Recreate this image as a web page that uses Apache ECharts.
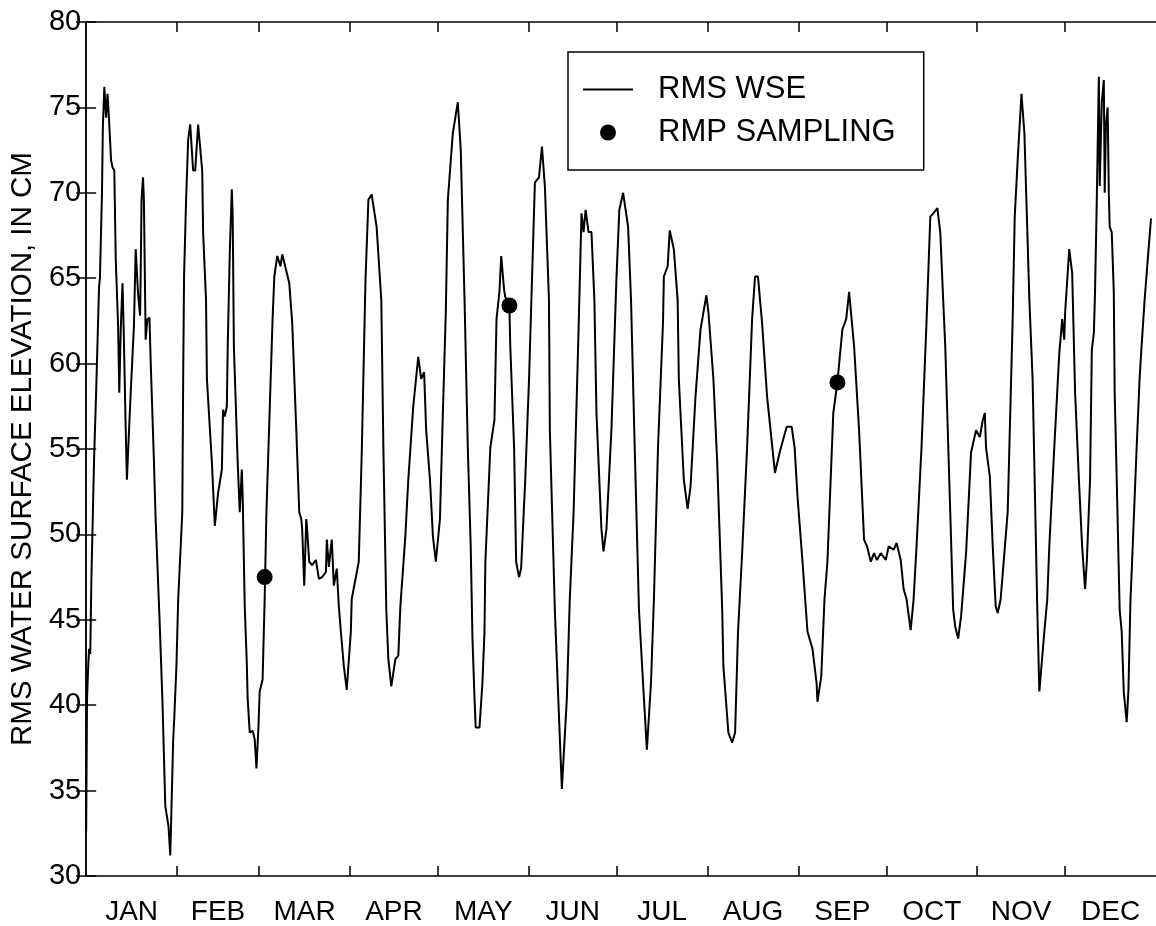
<!DOCTYPE html>
<html>
<head>
<meta charset="utf-8">
<script src="https://cdn.jsdelivr.net/npm/echarts@6/dist/echarts.min.js"></script>
<style>
  html, body { margin: 0; padding: 0; background: #fff; }
  #chart { width: 1156px; height: 926px; }
</style>
</head>
<body>
<div id="chart"></div>
<script>
// month boundaries (day of year) and names
const monthStarts = [0, 31, 59, 90, 120, 151, 181, 212, 243, 273, 304, 334, 365];
const monthNames = ['JAN', 'FEB', 'MAR', 'APR', 'MAY', 'JUN', 'JUL', 'AUG', 'SEP', 'OCT', 'NOV', 'DEC'];
const yTicks = [30, 35, 40, 45, 50, 55, 60, 65, 70, 75, 80];

// RMS water surface elevation, [day of year, cm]
const wse = [
  [0, 32.6], [0.3, 40.4], [0.7, 42.3], [1.0, 43.3], [1.4, 43.0], [1.8, 47.5], [2.7, 54.4], [3.4, 58.3],
  [4.4, 64.5], [4.7, 65.0], [5.4, 70.0], [5.7, 73.9], [6.2, 76.2], [6.8, 74.4], [7.3, 75.8], [7.8, 74.3],
  [8.5, 71.9], [9.0, 71.5], [9.6, 71.3], [10.1, 66.1], [10.9, 62.2], [11.3, 58.3], [11.8, 62.0], [12.4, 64.7],
  [12.8, 62.0], [13.5, 56.1], [13.9, 53.2], [14.5, 55.6], [15.2, 58.3], [16.3, 62.2], [16.9, 66.7], [17.2, 66.8],
  [17.7, 64.1], [18.4, 62.8], [18.6, 65.1], [18.9, 69.6], [19.4, 70.9], [19.7, 69.6], [20.3, 61.4], [20.9, 62.6],
  [21.6, 62.7], [22.0, 60.2], [23.1, 54.4], [23.7, 50.9], [25.0, 45.2], [26.0, 40.4], [27.0, 34.1], [28.1, 32.9],
  [28.7, 31.2], [29.7, 38.0], [30.1, 39.4], [30.8, 42.3], [31.4, 46.2], [32.8, 51.3], [33.1, 59.1], [33.4, 65.1],
  [34.1, 69.6], [34.8, 73.1], [35.5, 74.0], [36.5, 71.3], [37.2, 71.3], [38.2, 74.0], [39.6, 71.3], [39.9, 67.7],
  [40.9, 63.7], [41.2, 59.1], [42.9, 54.2], [43.9, 50.5], [45.0, 52.4], [46.3, 53.8], [46.7, 57.3], [47.3, 56.9],
  [48.0, 57.5], [48.3, 61.0], [49.0, 66.5], [49.7, 70.2], [50.0, 68.6], [50.4, 61.0], [51.7, 54.2], [52.4, 51.3],
  [53.1, 53.8], [53.4, 52.2], [54.1, 45.8], [54.8, 42.5], [55.1, 40.4], [55.8, 38.4], [56.8, 38.5], [57.5, 38.0],
  [58.1, 36.3], [58.8, 38.8], [59.2, 40.8], [60.2, 41.5], [60.9, 46.2], [61.5, 51.3], [63.6, 62.6], [64.2, 65.1],
  [65.2, 66.3], [66.3, 65.7], [66.9, 66.4], [69.3, 64.7], [70.3, 62.4], [71.7, 56.1], [72.7, 51.3], [73.4, 50.9],
  [73.7, 50.3], [74.4, 47.0], [75.1, 50.9], [75.4, 50.3], [76.1, 48.4], [77.1, 48.2], [78.4, 48.5], [79.4, 47.4],
  [80.5, 47.5], [81.8, 47.8], [82.1, 49.7], [82.8, 48.1], [83.8, 49.7], [84.5, 47.0], [85.5, 48.0], [86.2, 45.8],
  [86.9, 44.3], [87.9, 42.3], [88.9, 40.9], [90.3, 44.3], [90.6, 46.2], [93.0, 48.4], [94.0, 54.6], [95.3, 64.9],
  [96.3, 69.6], [97.4, 69.9], [99.1, 68.0], [100.7, 63.7], [101.4, 55.1], [102.4, 45.6], [103.1, 42.7], [104.1, 41.1],
  [105.5, 42.7], [106.5, 42.9], [107.2, 45.8], [108.9, 49.9], [109.9, 53.2], [111.6, 57.5], [113.3, 60.4], [114.3, 59.1],
  [115.3, 59.5], [116.0, 56.1], [117.3, 53.2], [118.3, 49.9], [119.3, 48.4], [120.7, 50.9], [121.7, 57.1], [122.7, 63.0],
  [123.4, 69.6], [125.1, 73.5], [126.8, 75.3], [127.8, 72.5], [129.1, 63.7], [130.2, 55.1], [131.2, 49.3], [131.8, 43.9],
  [132.5, 40.4], [132.9, 38.7], [134.2, 38.7], [135.2, 41.3], [135.9, 44.3], [136.2, 48.4], [137.9, 55.1], [139.3, 56.7],
  [140.0, 62.6], [141.0, 64.2], [141.6, 66.3], [142.6, 64.3], [143.0, 63.9], [144.4, 63.3], [144.7, 61.0], [146.0, 55.1],
  [146.7, 48.4], [147.7, 47.5], [148.4, 48.0], [149.8, 53.2], [151.1, 59.1], [152.1, 64.9], [153.1, 70.6], [154.5, 70.9],
  [155.5, 72.7], [156.5, 70.4], [157.9, 63.7], [158.2, 56.1], [159.9, 45.6], [161.3, 39.4], [162.3, 35.1], [164.0, 40.4],
  [165.0, 46.2], [166.3, 51.3], [168.0, 62.0], [169.0, 68.8], [169.7, 67.7], [170.4, 69.0], [171.4, 67.7], [172.4, 67.7],
  [173.4, 63.7], [174.1, 57.1], [175.8, 50.3], [176.5, 49.0], [177.5, 50.3], [179.2, 56.1], [180.9, 64.9], [181.9, 69.0],
  [183.2, 70.0], [184.9, 68.0], [185.9, 63.7], [187.0, 56.1], [188.6, 45.6], [190.0, 41.3], [191.3, 37.4], [192.7, 41.3],
  [193.7, 46.2], [195.1, 55.1], [196.8, 62.4], [197.1, 65.1], [198.4, 65.7], [199.1, 67.8], [200.5, 66.7], [201.8, 63.7],
  [202.2, 59.1], [203.9, 53.2], [205.2, 51.5], [206.2, 52.8], [207.9, 58.1], [209.6, 62.0], [211.6, 64.0], [212.3, 63.0],
  [214.0, 59.1], [215.3, 54.2], [217.0, 45.6], [217.4, 42.3], [219.1, 38.4], [220.4, 37.8], [221.4, 38.4], [222.4, 44.3],
  [223.8, 48.9], [225.5, 55.1], [227.2, 62.6], [228.2, 65.1], [229.2, 65.1], [230.6, 62.4], [232.3, 58.1], [235.0, 53.6],
  [236.6, 54.8], [239.0, 56.3], [240.7, 56.3], [241.7, 55.1], [242.7, 52.2], [244.4, 48.4], [246.1, 44.3], [247.8, 43.3],
  [249.2, 41.3], [249.5, 40.2], [250.8, 41.7], [251.9, 46.2], [252.9, 48.4], [254.9, 57.1], [256.3, 58.9], [258.0, 62.0],
  [259.3, 62.6], [260.3, 64.2], [262.0, 61.0], [263.7, 56.1], [265.4, 49.7], [266.4, 49.3], [267.7, 48.4], [268.8, 48.9],
  [269.8, 48.5], [271.1, 48.9], [272.8, 48.5], [273.8, 49.3], [275.5, 49.1], [276.5, 49.5], [277.9, 48.5], [278.9, 46.8],
  [279.9, 46.2], [281.3, 44.4], [282.3, 46.2], [283.3, 49.3], [285.0, 55.1], [286.7, 62.4], [288.0, 68.6], [289.0, 68.8],
  [290.4, 69.1], [291.4, 67.7], [292.4, 63.7], [293.1, 61.0], [294.8, 51.3], [295.8, 45.6], [296.5, 44.6], [297.5, 43.9],
  [298.5, 45.2], [300.2, 48.9], [301.9, 54.8], [303.6, 56.1], [304.9, 55.7], [305.9, 56.7], [306.6, 57.1], [307.0, 55.1],
  [308.3, 53.4], [309.3, 49.3], [310.3, 45.8], [311.0, 45.4], [312.0, 46.2], [314.4, 51.3], [316.1, 62.6], [316.8, 68.6],
  [317.8, 71.9], [319.1, 75.8], [320.1, 73.5], [321.8, 63.7], [322.9, 59.1], [324.5, 45.6], [325.2, 40.8], [326.9, 44.3],
  [327.9, 46.2], [328.6, 49.3], [330.3, 55.1], [332.0, 60.6], [333.0, 62.6], [333.7, 61.4], [334.0, 63.0], [335.4, 66.7],
  [336.4, 65.3], [337.4, 58.3], [338.7, 53.2], [339.8, 49.3], [340.8, 46.8], [341.4, 48.4], [342.5, 53.2], [343.1, 60.8],
  [343.8, 61.8], [344.2, 64.2], [344.8, 69.6], [345.5, 76.8], [345.8, 70.4], [346.5, 75.3], [347.2, 76.6], [347.5, 70.0],
  [347.9, 73.9], [348.5, 75.0], [348.9, 70.0], [349.2, 68.0], [349.9, 67.7], [350.6, 64.2], [350.9, 58.3], [351.6, 53.2],
  [352.6, 45.6], [353.3, 44.3], [354.0, 40.8], [355.0, 39.0], [355.6, 40.9], [356.3, 46.2], [356.7, 47.8], [358.4, 55.1],
  [359.4, 59.1], [360.0, 60.8], [361.1, 63.7], [362.1, 65.9], [363.3, 68.5]
];

// RMP sampling dates, [day of year, cm]
const sampling = [[60.9, 47.5], [144.4, 63.4], [256.3, 58.9]];

const FONT = '"Liberation Sans", Arial, Helvetica, sans-serif';
const labelDays = monthNames.map((m, i) => (monthStarts[i] + monthStarts[i + 1]) / 2);

const chart = echarts.init(document.getElementById('chart'));

const axisLine = { show: true, lineStyle: { color: '#000', width: 1.5 } };
const tickStyle = { show: true, inside: true, length: 10, lineStyle: { color: '#000', width: 1.5 } };

chart.setOption({
  backgroundColor: '#fff',
  animation: false,
  grid: { left: 85, top: 22, right: -9, bottom: 49 },
  legend: {
    orient: 'vertical',
    left: 568,
    top: 52,
    padding: [22, 28, 22, 14],
    itemGap: 12,
    itemWidth: 50,
    itemHeight: 16,
    borderColor: '#000',
    borderWidth: 1.5,
    backgroundColor: '#fff',
    textStyle: { color: '#000', fontFamily: FONT, fontSize: 31, lineHeight: 30, padding: [0, 0, 0, 20] },
    data: [
      { name: 'RMS WSE', itemStyle: { opacity: 0 } },
      { name: 'RMP SAMPLING', icon: 'circle' }
    ]
  },
  xAxis: [
    {
      type: 'value', min: 0, max: 365, position: 'bottom',
      axisLine: axisLine,
      axisTick: Object.assign({ customValues: monthStarts.slice(1, -1) }, tickStyle),
      axisLabel: {
        customValues: labelDays,
        formatter: v => monthNames[labelDays.indexOf(v)] || '',
        color: '#000', fontFamily: FONT, fontSize: 28, margin: 22
      },
      splitLine: { show: false }
    },
    {
      type: 'value', min: 0, max: 365, position: 'top',
      axisLine: axisLine,
      axisTick: Object.assign({ customValues: monthStarts.slice(1, -1) }, tickStyle),
      axisLabel: { show: false },
      splitLine: { show: false }
    }
  ],
  yAxis: [
    {
      type: 'value', min: 30, max: 80, interval: 5, position: 'left',
      name: 'RMS WATER SURFACE ELEVATION, IN CM',
      nameLocation: 'middle', nameRotate: 90, nameGap: 40,
      nameTextStyle: { color: '#000', fontFamily: FONT, fontSize: 29.5 },
      axisLine: axisLine,
      axisTick: tickStyle,
      axisLabel: { color: '#000', fontFamily: FONT, fontSize: 29, margin: 5 },
      splitLine: { show: false }
    },
    {
      type: 'value', min: 30, max: 80, interval: 5, position: 'right',
      axisLine: axisLine,
      axisTick: tickStyle,
      axisLabel: { show: false },
      splitLine: { show: false }
    }
  ],
  series: [
    {
      name: 'RMS WSE',
      type: 'line',
      data: wse,
      symbol: 'none',
      lineStyle: { color: '#000', width: 2 },
      itemStyle: { color: '#000' },
      z: 2
    },
    {
      name: 'RMP SAMPLING',
      type: 'scatter',
      data: sampling,
      symbol: 'circle',
      symbolSize: 16,
      itemStyle: { color: '#000', opacity: 1 },
      z: 3
    }
  ]
});
</script>
</body>
</html>
